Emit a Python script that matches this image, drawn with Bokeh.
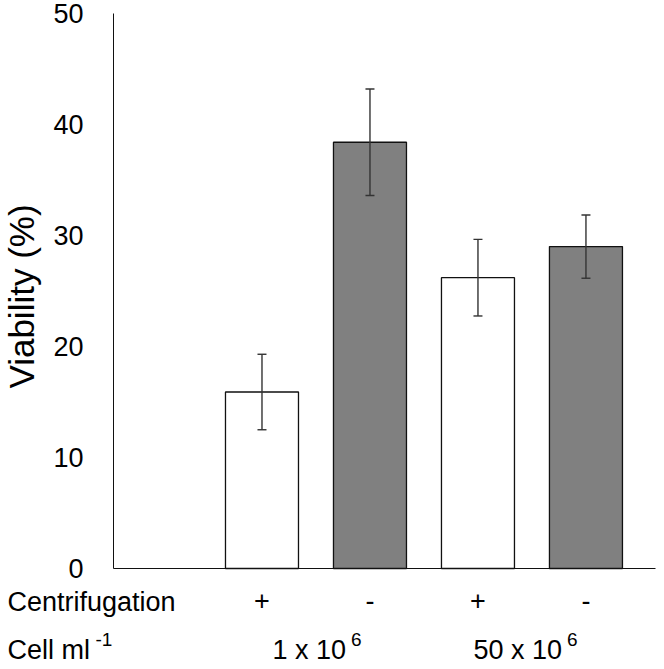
import math
from bokeh.plotting import figure
from bokeh.models import ColumnDataSource, Range1d, FixedTicker, Whisker, TeeHead, Label
from bokeh.core.properties import value
from bokeh.embed import file_html
from bokeh.resources import INLINE

# ---- data ----
centrifugation = ["+", "-", "+", "-"]
viability = [15.9, 38.4, 26.2, 29.0]
viability_err = [3.4, 4.8, 3.45, 2.85]
cell_density = ["1 x 10", "50 x 10"]
density_exponent = ["6", "6"]
y_ticks = [0, 10, 20, 30, 40, 50]
row_titles = ["Centrifugation", "Cell ml"]
row_title_exponent = "-1"
y_title = "Viability (%)"

# ---- layout / style ----
FONT = "Liberation Sans"
GRAY = "#808080"
W, H = 664, 669
# pixel box of the chart area inside the canvas
AREA_L, AREA_R, AREA_T, AREA_B = 113, 655, 13, 568
X0, X1 = -0.375, 4.644
Y0, Y1 = 0, 50
PPX = (AREA_R - AREA_L) / (X1 - X0)
PPY = (AREA_B - AREA_T) / (Y1 - Y0)
ROW1_MID, ROW2_MID, SUP_MID = 601, 649, 639   # pixel rows of the category table

xs = list(range(1, len(viability) + 1))
src = ColumnDataSource(dict(
    x=xs,
    top=viability,
    upper=[v + e for v, e in zip(viability, viability_err)],
    lower=[v - e for v, e in zip(viability, viability_err)],
    fill=["white" if c == "+" else GRAY for c in centrifugation],
))

p = figure(width=W, height=H, output_backend="svg", toolbar_location=None,
           x_range=Range1d(X0 - AREA_L / PPX, X1 + (W - AREA_R) / PPX),
           y_range=Range1d(Y0 - (H - AREA_B) / PPY, Y1 + AREA_T / PPY),
           min_border=0, min_border_left=0, min_border_right=0,
           min_border_top=0, min_border_bottom=0)
p.outline_line_color = None
p.grid.grid_line_color = None
p.background_fill_color = "white"
p.border_fill_color = "white"

p.vbar(x="x", top="top", bottom=0, width=0.676, source=src,
       fill_color="fill", line_color="#111111", line_width=1.3)

err = Whisker(source=src, base="x", upper="upper", lower="lower",
              line_color="#333333", line_width=1.4, level="overlay",
              upper_head=TeeHead(size=9, line_color="#333333", line_width=1.4),
              lower_head=TeeHead(size=9, line_color="#333333", line_width=1.4))
p.add_layout(err)

# y axis, pinned at the left edge of the chart area
ya = p.yaxis[0]
ya.fixed_location = X0
ya.bounds = (Y0, Y1)
ya.ticker = FixedTicker(ticks=y_ticks)
ya.major_tick_line_color = None
ya.minor_tick_line_color = None
ya.major_tick_out = 0
ya.major_tick_in = 0
ya.axis_line_color = "#111111"
ya.axis_line_width = 1
ya.major_label_standoff = 30
ya.major_label_text_font = FONT
ya.major_label_text_font_size = "27px"
ya.major_label_text_color = "black"

# x axis (centrifugation row), pinned at y = 0
xa = p.xaxis[0]
xa.fixed_location = Y0
xa.bounds = (X0, X1)
xa.ticker = FixedTicker(ticks=xs)
xa.major_label_overrides = {x: c for x, c in zip(xs, centrifugation)}
xa.major_tick_line_color = None
xa.minor_tick_line_color = None
xa.major_tick_out = 0
xa.major_tick_in = 0
xa.axis_line_color = "#111111"
xa.axis_line_width = 1
xa.major_label_standoff = 22
xa.major_label_text_font = FONT
xa.major_label_text_font_size = "27px"
xa.major_label_text_color = "black"

# y axis title
p.add_layout(Label(x=21, y=H - 296, x_units="screen", y_units="screen", text=y_title,
                   angle=math.pi / 2, text_font=FONT, text_font_size="35px",
                   text_align="center", text_baseline="middle", text_color="black"))

# cell density row (second category level)
mids = [(xs[2 * i] + xs[2 * i + 1]) / 2 for i in range(len(cell_density))]
p.text(x=mids, y=[-(ROW2_MID - AREA_B) / PPY] * len(mids), text=cell_density, x_offset=30,
       text_font=value(FONT), text_font_size=value("27px"),
       text_align="right", text_baseline="middle", text_color="black")
p.text(x=mids, y=[-(SUP_MID - AREA_B) / PPY] * len(mids), text=density_exponent, x_offset=35,
       text_font=value(FONT), text_font_size=value("19px"),
       text_align="left", text_baseline="middle", text_color="black")

# row titles
p.add_layout(Label(x=7, y=H - ROW1_MID, x_units="screen", y_units="screen",
                   text=row_titles[0], text_font=FONT, text_font_size="27px",
                   text_align="left", text_baseline="middle", text_color="black"))
p.add_layout(Label(x=7, y=H - ROW2_MID, x_units="screen", y_units="screen",
                   text=row_titles[1], text_font=FONT, text_font_size="27px",
                   text_align="left", text_baseline="middle", text_color="black"))
p.add_layout(Label(x=95, y=H - SUP_MID, x_units="screen", y_units="screen",
                   text=row_title_exponent, text_font=FONT, text_font_size="19px",
                   text_align="left", text_baseline="middle", text_color="black"))

open("out.html", "w").write(file_html(p, INLINE))
